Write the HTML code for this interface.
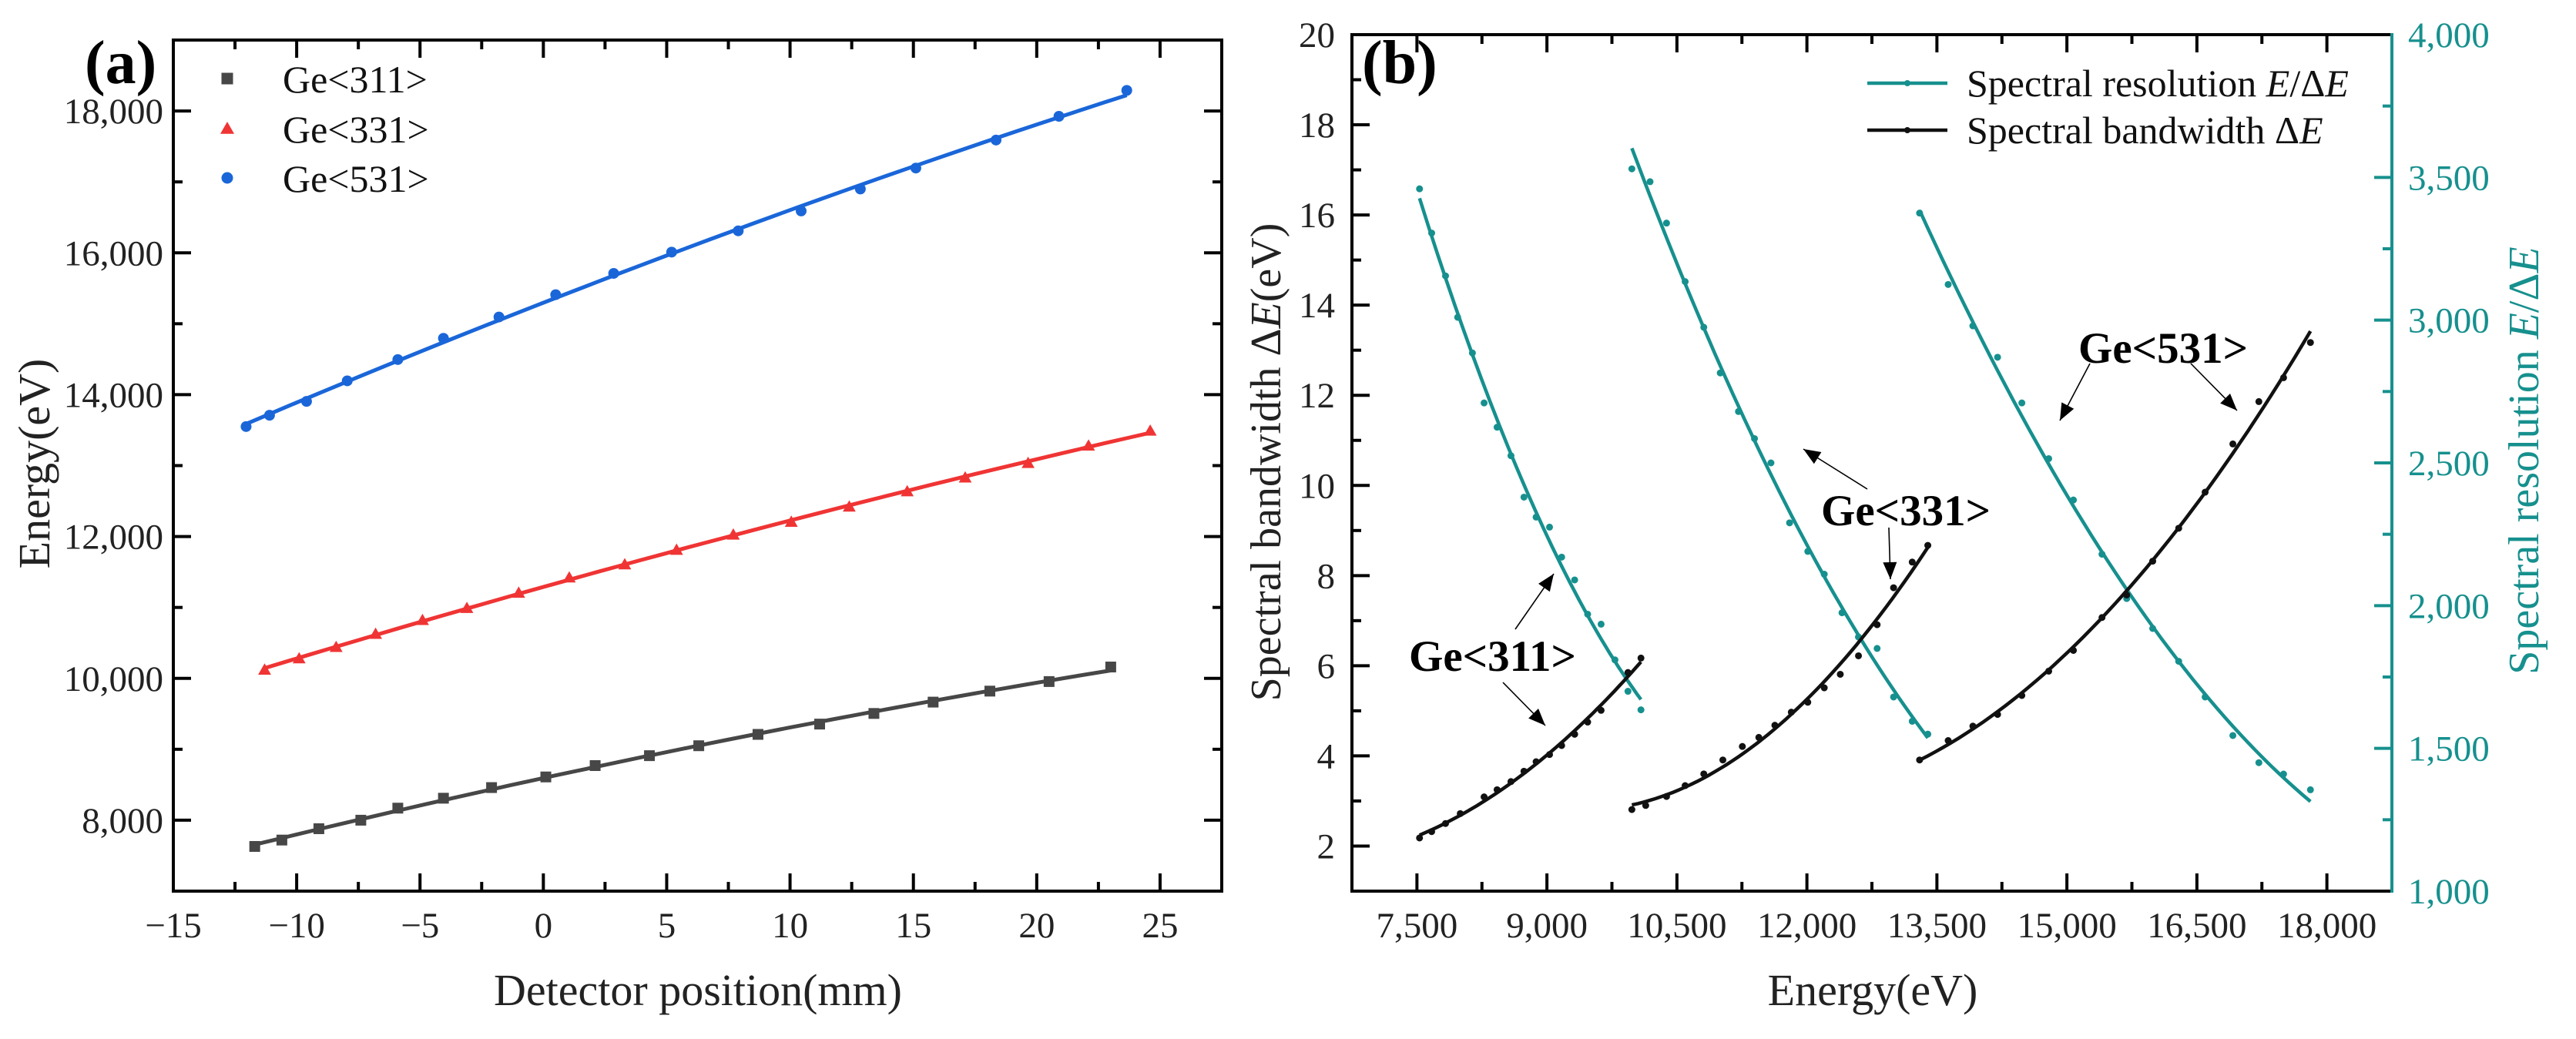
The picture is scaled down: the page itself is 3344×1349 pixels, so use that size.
<!DOCTYPE html>
<html><head><meta charset="utf-8"><style>
html,body{margin:0;padding:0;background:#fff;}
svg{display:block;}
svg text{font-family:"Liberation Serif",serif;}
</style></head><body>
<svg id="fig" width="3344" height="1349" viewBox="0 0 3344 1349" font-family="Liberation Serif, serif" xmlns="http://www.w3.org/2000/svg">
<rect width="3344" height="1349" fill="#fff"/>
<g id="pa"></g>
<g id="pb"></g>
</svg>
<script>
// ---------- Panel (a) data ----------
const aX311 = [-11.7,-10.6,-9.1,-7.4,-5.9,-4.05,-2.1,0.1,2.1,4.3,6.3,8.7,11.2,13.4,15.8,18.1,20.5,23.0];
const aY311 = [7630,7720,7880,8000,8170,8310,8460,8610,8770,8910,9050,9210,9355,9505,9665,9820,9955,10160];
const aX331 = [-11.3,-9.9,-8.4,-6.8,-4.9,-3.1,-1.0,1.05,3.3,5.4,7.7,10.05,12.4,14.75,17.1,19.65,22.1,24.6];
const aY331 = [10120,10280,10440,10625,10820,10990,11205,11420,11605,11810,12025,12205,12420,12635,12830,13035,13280,13490];
const aX531 = [-12.05,-11.1,-9.6,-7.95,-5.9,-4.05,-1.8,0.5,2.85,5.2,7.9,10.45,12.85,15.1,18.35,20.9,23.65];
const aY531 = [13550,13710,13905,14195,14495,14795,15095,15410,15710,16010,16310,16590,16900,17195,17590,17925,18290];
const aXTicks = [-15,-10,-5,0,5,10,15,20,25];
const aYTicks = [8000,10000,12000,14000,16000,18000];
const aYTickLabels = ["8,000","10,000","12,000","14,000","16,000","18,000"];
const aLegend = ["Ge<311>","Ge<331>","Ge<531>"];

// ---------- Panel (b) data ----------
const bE311 = [7530,7670,7830,8000,8275,8425,8585,8735,8875,9030,9170,9320,9470,9625,9935,10085];
const bBW311 = [2.18,2.32,2.50,2.72,3.09,3.25,3.43,3.66,3.87,4.03,4.23,4.48,4.75,5.01,5.85,6.17];
const bR311E = [7530,7670,7830,7970,8140,8275,8425,8585,8735,8875,9030,9170,9320,9470,9625,9785,9935,10085];
const bR311 = [3460,3305,3155,3010,2885,2710,2625,2525,2380,2310,2275,2170,2090,1970,1935,1810,1700,1635];
const bE331 = [9980,10140,10380,10595,10810,11030,11255,11445,11630,11820,12010,12200,12385,12595,12810,13000,13215,13395];
const bBW331 = [2.81,2.90,3.10,3.34,3.60,3.91,4.21,4.41,4.68,4.97,5.19,5.51,5.81,6.22,6.91,7.73,8.30,8.67];
const bR331E = [9980,10190,10380,10595,10810,11000,11210,11395,11585,11800,12010,12200,12405,12595,12810,13000,13215,13395];
const bR331 = [3530,3485,3340,3135,2975,2815,2680,2585,2500,2290,2190,2110,1975,1890,1850,1680,1595,1550];
const bE531 = [13300,13630,13915,14200,14480,14790,15075,15405,15690,15990,16290,16595,16915,17215,17500,17810];
const bBW531 = [3.91,4.34,4.66,4.92,5.34,5.88,6.34,7.07,7.57,8.32,9.05,9.85,10.92,11.86,12.39,13.17];
const bR531 = [3375,3125,2980,2870,2710,2515,2370,2180,2025,1920,1805,1680,1545,1450,1410,1355];
const bXTicks = [7500,9000,10500,12000,13500,15000,16500,18000];
const bXTickLabels = ["7,500","9,000","10,500","12,000","13,500","15,000","16,500","18,000"];
const bYTicks = [2,4,6,8,10,12,14,16,18,20];
const bRTicks = [1000,1500,2000,2500,3000,3500,4000];
const bRTickLabels = ["1,000","1,500","2,000","2,500","3,000","3,500","4,000"];

const NS="http://www.w3.org/2000/svg";
const TEAL="#16908e";
function mk(parent,tag,attrs,txt){const e=document.createElementNS(NS,tag);for(const k in attrs)e.setAttribute(k,attrs[k]);if(txt!==undefined)e.textContent=txt;parent.appendChild(e);return e;}
function lin(d0,d1,p0,p1){return v=>p0+(v-d0)*(p1-p0)/(d1-d0);}
function quadFit(xs,ys){
  const n=xs.length;const m=xs.reduce((s,v)=>s+v,0)/n;let S=[0,0,0,0,0],T=[0,0,0];
  xs.forEach((x0,i)=>{const x=x0-m;let p=1;for(let k=0;k<5;k++){S[k]+=p;p*=x;}T[0]+=ys[i];T[1]+=ys[i]*x;T[2]+=ys[i]*x*x;});
  const A=[[S[0],S[1],S[2],T[0]],[S[1],S[2],S[3],T[1]],[S[2],S[3],S[4],T[2]]];
  for(let i=0;i<3;i++){for(let j=i+1;j<3;j++){const f=A[j][i]/A[i][i];for(let k=i;k<4;k++)A[j][k]-=f*A[i][k];}}
  const c=[0,0,0];for(let i=2;i>=0;i--){let s=A[i][3];for(let k=i+1;k<3;k++)s-=A[i][k]*c[k];c[i]=s/A[i][i];}
  return x=>c[0]+c[1]*(x-m)+c[2]*(x-m)*(x-m);
}

// ================= Panel A =================
const pa=document.getElementById('pa');
const aL=225,aR=1586,aT=52,aB=1157;
const ax=lin(-15,27.5,aL,aR), ay=lin(7000,19000,aB,aT);
for(let v=-15;v<=27.5;v+=2.5){const maj=(v%5===0);const len=maj?23:12;const x=ax(v);
  let t=mk(pa,'line',{x1:x,y1:aB,x2:x,y2:aB-len,stroke:'#000','stroke-width':4});
  
  t=mk(pa,'line',{x1:x,y1:aT,x2:x,y2:aT+len,stroke:'#000','stroke-width':4});
  }
for(let v=8000;v<=19000;v+=1000){const maj=(v%2000===0);const len=maj?23:12;const y=ay(v);
  let t=mk(pa,'line',{x1:aL,y1:y,x2:aL+len,y2:y,stroke:'#000','stroke-width':4});
  
  t=mk(pa,'line',{x1:aR,y1:y,x2:aR-len,y2:y,stroke:'#000','stroke-width':4});
  }
let fr=mk(pa,'rect',{x:aL,y:aT,width:aR-aL,height:aB-aT,fill:'none',stroke:'#000','stroke-width':4});

aXTicks.forEach(v=>{const t=mk(pa,'text',{x:ax(v),y:1217,'font-size':47,'text-anchor':'middle',fill:'#222'},String(v).replace('-','\u2212'));
  });
aYTicks.forEach((v,i)=>{const t=mk(pa,'text',{x:212,y:ay(v)+16,'font-size':47,'text-anchor':'end',fill:'#222'},aYTickLabels[i]);
  });
let tt=mk(pa,'text',{x:906,y:1305,'font-size':58,'text-anchor':'middle',fill:'#222'},'Detector position(mm)');

tt=mk(pa,'text',{x:0,y:0,'font-size':58,'text-anchor':'middle',fill:'#222',transform:'translate(64,602) rotate(-90)'},'Energy(eV)');

tt=mk(pa,'text',{x:110,y:108,'font-size':80,'font-weight':'bold',fill:'#000'},'(a)');


function marker(g,kind,x,y,col,s){
  if(kind==='sq')return mk(g,'rect',{x:x-s/2,y:y-s/2,width:s,height:s,fill:col});
  if(kind==='tri')return mk(g,'polygon',{points:`${x},${y-s*0.6} ${x-s*0.6},${y+s*0.45} ${x+s*0.6},${y+s*0.45}`,fill:col});
  return mk(g,'circle',{cx:x,cy:y,r:s/2,fill:col});
}
const aSeries=[[aX311,aY311,'#474747','sq','ge311'],[aX331,aY331,'#f03434','tri','ge331'],[aX531,aY531,'#1a66d9','circ','ge531']];
aSeries.forEach(([xs,ys,col,kind,nm])=>{
  const g=mk(pa,'g',{});
  const f=quadFit(xs,ys);const x0=Math.min(...xs),x1=Math.max(...xs);let d='';
  for(let i=0;i<=40;i++){const xv=x0+(x1-x0)*i/40;d+=(i?'L':'M')+ax(xv).toFixed(1)+','+ay(f(xv)).toFixed(1);}
  const p=mk(g,'path',{d:d,fill:'none',stroke:col,'stroke-width':5});
  
  xs.forEach((xv,i)=>{const m=marker(g,kind,ax(xv),ay(ys[i]),col,14);
    });
});
const lga=mk(pa,'g',{});
aSeries.forEach((s,i)=>{const y=[102,167,231][i];
  const m=marker(lga,s[3],295,y,s[2],15);
  const t=mk(lga,'text',{x:367,y:y+18,'font-size':50,fill:'#111'},aLegend[i]);
  });

// ================= Panel B =================
const pb=document.getElementById('pb');
const bL=1755,bR=3105,bT=45,bB=1157;
const bx=lin(6750,18750,bL,bR), by=lin(1,20,bB,bT), byr=lin(1000,4000,bB,bT);
for(let v=6750;v<=18750;v+=750){const maj=(v%1500===0);const len=maj?23:12;const x=bx(v);
  let t=mk(pb,'line',{x1:x,y1:bB,x2:x,y2:bB-len,stroke:'#000','stroke-width':4});
  
  t=mk(pb,'line',{x1:x,y1:bT,x2:x,y2:bT+len,stroke:'#000','stroke-width':4});
  }
for(let v=1;v<=20;v+=1){const maj=(v%2===0);const len=maj?23:12;const y=by(v);
  const t=mk(pb,'line',{x1:bL,y1:y,x2:bL+len,y2:y,stroke:'#000','stroke-width':4});
  }
for(let v=1000;v<=4000;v+=250){const maj=(v%500===0);const len=maj?23:12;const y=byr(v);
  const t=mk(pb,'line',{x1:bR,y1:y,x2:bR-len,y2:y,stroke:TEAL,'stroke-width':4});
  }
let ln=mk(pb,'polyline',{points:`${bR},${bT} ${bL},${bT} ${bL},${bB} ${bR},${bB}`,fill:'none',stroke:'#000','stroke-width':4});

ln=mk(pb,'line',{x1:bR,y1:bT-2,x2:bR,y2:bB+2,stroke:TEAL,'stroke-width':4});

bXTicks.forEach((v,i)=>{const t=mk(pb,'text',{x:bx(v),y:1217,'font-size':47,'text-anchor':'middle',fill:'#222'},bXTickLabels[i]);
  });
bYTicks.forEach(v=>{const t=mk(pb,'text',{x:1733,y:by(v)+16,'font-size':47,'text-anchor':'end',fill:'#222'},String(v));
  });
bRTicks.forEach((v,i)=>{const t=mk(pb,'text',{x:3126,y:byr(v)+16,'font-size':47,fill:TEAL},bRTickLabels[i]);
  });
tt=mk(pb,'text',{x:2431,y:1305,'font-size':58,'text-anchor':'middle',fill:'#222'},'Energy(eV)');

tt=mk(pb,'text',{x:0,y:0,'font-size':56,'text-anchor':'middle',fill:'#222',transform:'translate(1662,600) rotate(-90)'});

mk(tt,'tspan',{},'Spectral bandwidth \u0394');mk(tt,'tspan',{'font-style':'italic'},'E');mk(tt,'tspan',{},'(eV)');
tt=mk(pb,'text',{x:0,y:0,'font-size':56,'text-anchor':'middle',fill:TEAL,transform:'translate(3295,598) rotate(-90)'});

mk(tt,'tspan',{},'Spectral resolution ');mk(tt,'tspan',{'font-style':'italic'},'E');mk(tt,'tspan',{},'/\u0394');mk(tt,'tspan',{'font-style':'italic'},'E');
tt=mk(pb,'text',{x:1768,y:108,'font-size':80,'font-weight':'bold',fill:'#000'},'(b)');


const bSeries=[[bR311E,bR311,TEAL,byr,'resolution-311'],[bR331E,bR331,TEAL,byr,'resolution-331'],[bE531,bR531,TEAL,byr,'resolution-531'],
  [bE311,bBW311,'#111',by,'bandwidth-311'],[bE331,bBW331,'#111',by,'bandwidth-331'],[bE531,bBW531,'#111',by,'bandwidth-531']];
bSeries.forEach(([xs,ys,col,yf,nm])=>{
  const g=mk(pb,'g',{});
  const f=quadFit(xs,ys);const x0=Math.min(...xs),x1=Math.max(...xs);let d='';
  for(let i=0;i<=50;i++){const xv=x0+(x1-x0)*i/50;d+=(i?'L':'M')+bx(xv).toFixed(1)+','+yf(f(xv)).toFixed(1);}
  const p=mk(g,'path',{d:d,fill:'none',stroke:col,'stroke-width':4.5});
  
  xs.forEach((xv,i)=>{const c=mk(g,'circle',{cx:bx(xv),cy:yf(ys[i]),r:4.5,fill:col});
    });
});
const lgb=mk(pb,'g',{});
[[108,TEAL,['Spectral resolution ','E','/\u0394','E']],[169,'#111',['Spectral bandwidth \u0394','E']]].forEach(([y,col,parts])=>{
  const l=mk(lgb,'line',{x1:2424,y1:y,x2:2528,y2:y,stroke:col,'stroke-width':4.5});
  
  const c=mk(lgb,'circle',{cx:2476,cy:y,r:4,fill:col});
  
  const t=mk(lgb,'text',{x:2553,y:y+17,'font-size':50,fill:'#111'});
  
  parts.forEach((s,i)=>mk(t,'tspan',(s==='E')?{'font-style':'italic'}:{},s));
});
const anns=[['Ge<531>',2698,451,[[2713,472,2674,546],[2844,472,2904,533]]],
            ['Ge<331>',2364,662,[[2424,635,2341,583],[2452,685,2454,752]]],
            ['Ge<311>',1829,851,[[1967,817,2017,745],[1951,886,2006,942]]]];
anns.forEach(([txt,x,cy,arrs])=>{
  const g=mk(pb,'g',{});
  const t=mk(g,'text',{x:x,y:cy+20,'font-size':57,'font-weight':'bold',fill:'#000'},txt);
  
  arrs.forEach(([x1,y1,x2,y2])=>{
    const l=mk(g,'line',{x1:x1,y1:y1,x2:x2,y2:y2,stroke:'#000','stroke-width':1.6});
    
    const ang=Math.atan2(y2-y1,x2-x1),L=22,W=9;
    const p=mk(g,'polygon',{points:`${x2},${y2} ${x2-L*Math.cos(ang)+W*Math.sin(ang)},${y2-L*Math.sin(ang)-W*Math.cos(ang)} ${x2-L*Math.cos(ang)-W*Math.sin(ang)},${y2-L*Math.sin(ang)+W*Math.cos(ang)}`,fill:'#000'});
    
  });
});
</script>
</body></html>
